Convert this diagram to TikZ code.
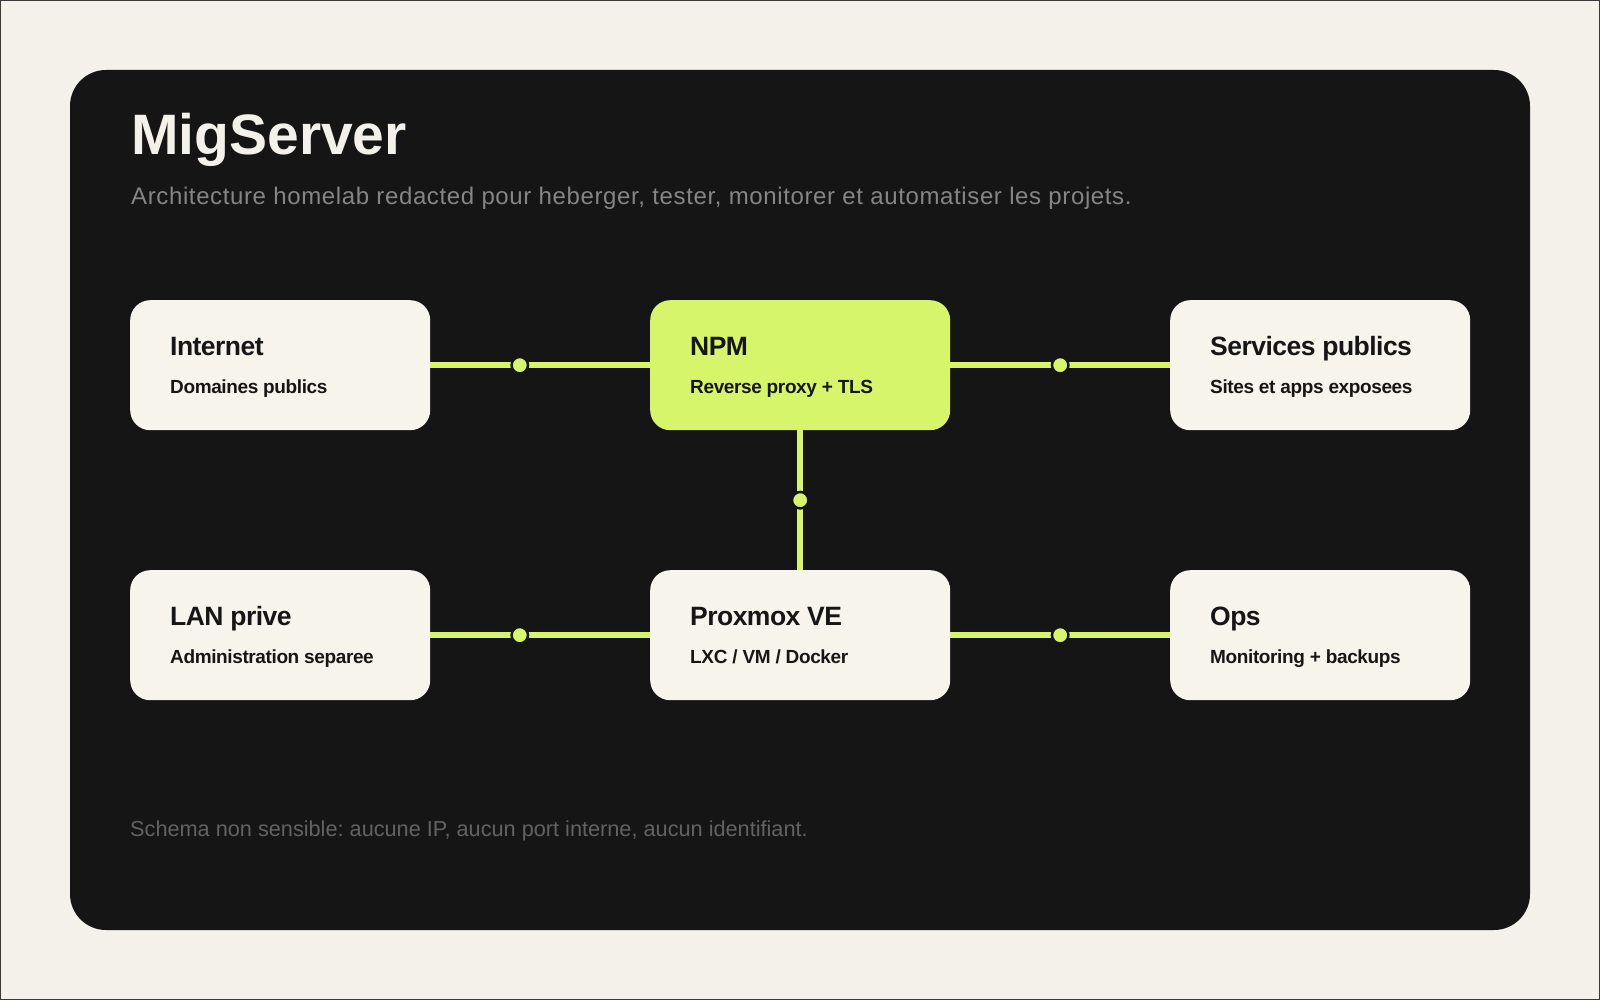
\documentclass[tikz,border=0pt]{standalone}
\usepackage{fontspec}
\setmainfont{Liberation Sans}
\newfontfamily\cardfont{Liberation Sans}[LetterSpace=-2]
\newfontfamily\leadfont{Liberation Sans}[LetterSpace=2.6]
\definecolor{pagebg}{HTML}{F4F1EA}
\definecolor{panel}{HTML}{151515}
\definecolor{card}{HTML}{F7F4EC}
\definecolor{lime}{HTML}{D6F56A}
\definecolor{ink}{HTML}{161616}
\definecolor{subgray}{HTML}{858585}
\definecolor{footgray}{HTML}{626262}
\definecolor{framegray}{HTML}{3A3A3A}
\frenchspacing
\tikzset{
  cardbox/.style={anchor=north west, fill=card, rounded corners=20pt, inner sep=0pt,
    minimum width=300pt, minimum height=130pt},
  limebox/.style={cardbox, fill=lime},
  cardtitle/.style={anchor=base west, inner sep=0pt, text=ink,
    font=\cardfont\bfseries\fontsize{26.5}{30}\selectfont},
  cardsub/.style={anchor=base west, inner sep=0pt, text=ink,
    font=\cardfont\bfseries\fontsize{19}{22}\selectfont},
  link/.style={draw=lime, line width=6.5pt},
  joint/.style={circle, fill=lime, draw=panel, line width=2.5pt, inner sep=0pt, minimum size=16.5pt}
}
\begin{document}
\begin{tikzpicture}[x=1pt,y=-1pt]
\useasboundingbox (0,0) rectangle (1600,1000);
\fill[pagebg] (0,0) rectangle (1600,1000);
\draw[framegray, line width=1pt] (0.5,0.5) rectangle (1599.5,999.5);
\fill[panel, rounded corners=36pt] (70,70) rectangle (1530,930);

\node[anchor=base west, inner sep=0pt, text=pagebg, font=\bfseries\fontsize{57}{60}\selectfont] (title) at (131,155) {MigServer};
\node[anchor=base west, inner sep=0pt, text=subgray, font=\leadfont\fontsize{24}{28}\selectfont] (lead) at (131,205) {Architecture homelab redacted pour heberger, tester, monitorer et automatiser les projets.};
\node[anchor=base west, inner sep=0pt, text=footgray, font=\fontsize{21.7}{25}\selectfont] (foot) at (130,836) {Schema non sensible: aucune IP, aucun port interne, aucun identifiant.};

% cards
\node[cardbox] (inet) at (130,300) {};
\node[limebox] (npm) at (650,300) {};
\node[cardbox] (pub) at (1170,300) {};
\node[cardbox] (lan) at (130,570) {};
\node[cardbox] (pve) at (650,570) {};
\node[cardbox] (ops) at (1170,570) {};

% connectors
\draw[link] (inet.east) -- node[joint, pos=0.407] (j1) {} (npm.west);
\draw[link] (npm.east) -- node[joint, pos=0.5] (j2) {} (pub.west);
\draw[link] (npm.south) -- node[joint, pos=0.5] (j3) {} (pve.north);
\draw[link] (lan.east) -- node[joint, pos=0.407] (j4) {} (pve.west);
\draw[link] (pve.east) -- node[joint, pos=0.5] (j5) {} (ops.west);

% texts
\node[cardtitle] (inet-t) at (170,355) {Internet};
\node[cardsub] (inet-s) at (170,393) {Domaines publics};
\node[cardtitle] (npm-t) at (690,355) {NPM};
\node[cardsub] (npm-s) at (690,393) {Reverse proxy + TLS};
\node[cardtitle] (pub-t) at (1210,355) {Services publics};
\node[cardsub] (pub-s) at (1210,393) {Sites et apps exposees};
\node[cardtitle] (lan-t) at (170,625) {LAN prive};
\node[cardsub] (lan-s) at (170,663) {Administration separee};
\node[cardtitle] (pve-t) at (690,625) {Proxmox VE};
\node[cardsub] (pve-s) at (690,663) {LXC / VM / Docker};
\node[cardtitle] (ops-t) at (1210,625) {Ops};
\node[cardsub] (ops-s) at (1210,663) {Monitoring + backups};
\end{tikzpicture}
\end{document}
